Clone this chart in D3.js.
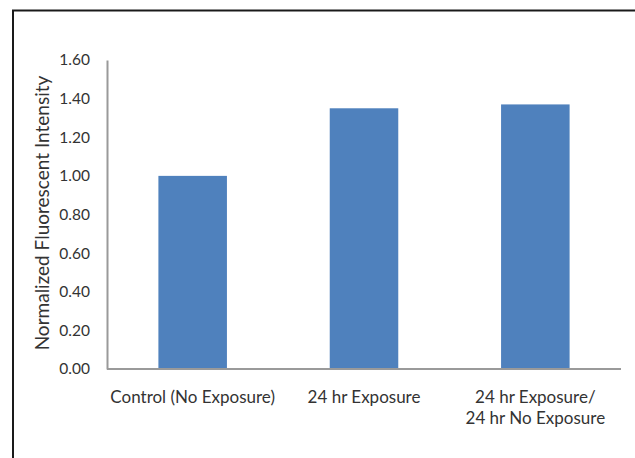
<!DOCTYPE html>
<html><head><meta charset="utf-8">
<script src="https://cdn.jsdelivr.net/npm/d3@7"></script>
<style>body{margin:0;background:#fff;overflow:hidden}svg{display:block}</style>
</head><body>
<script>
const categories = ["Control (No Exposure)", "24 hr Exposure", "24 hr Exposure/\n24 hr No Exposure"];
const values = [1.00, 1.35, 1.37];
const yTicks = [0, 0.2, 0.4, 0.6, 0.8, 1.0, 1.2, 1.4, 1.6];
const yTitle = "Normalized Fluorescent Intensity";

const W = 635, H = 458;
const svg = d3.select("body").append("svg").attr("width", W).attr("height", H);
svg.append("rect").attr("width", W).attr("height", H).attr("fill", "#fff");
svg.append("path").attr("d", `M13,${H}V10.5H${W}`)
  .attr("fill", "none").attr("stroke", "#1a1a1a").attr("stroke-width", 2);

const x = d3.scaleBand().domain(categories).range([107, 621]).paddingInner(0.6).paddingOuter(0.3);
const y = d3.scaleLinear().domain([0, 1.6]).range([369, 60]);
const font = "Lato, 'Open Sans', sans-serif";
const textCol = "#333";

svg.selectAll("rect.bar").data(values).join("rect").attr("class", "bar")
  .attr("x", (d, i) => x(categories[i])).attr("width", x.bandwidth())
  .attr("y", d => y(d)).attr("height", d => y(0) - y(d)).attr("fill", "#4f81bd");

const yAxis = svg.append("g").attr("transform", "translate(107,0)")
  .call(d3.axisLeft(y).tickValues(yTicks).tickFormat(d3.format(".2f")).tickSize(0).tickPadding(17));
yAxis.select(".domain").attr("stroke", "#9a9a9a").attr("stroke-width", 2);
yAxis.selectAll("text").attr("font-family", font).attr("font-size", 15.5).attr("fill", textCol);

const xAxis = svg.append("g").attr("transform", "translate(0,369)")
  .call(d3.axisBottom(x).tickSize(0).tickFormat(""));
xAxis.select(".domain").attr("stroke", "#9a9a9a").attr("stroke-width", 2).attr("d", "M107,0H621");
xAxis.selectAll(".tick").each(function(d) {
  const lines = d.split("\n");
  const t = d3.select(this).append("text").attr("font-family", font).attr("font-size", 17)
    .attr("fill", textCol).attr("text-anchor", "middle");
  lines.forEach((l, i) => t.append("tspan").attr("x", 0).attr("y", 34 + i * 21).text(l));
});

svg.append("text").attr("transform", "translate(49,213) rotate(-90)")
  .attr("text-anchor", "middle").attr("font-family", font).attr("font-size", 19)
  .attr("fill", textCol).text(yTitle);
</script>
</body></html>
